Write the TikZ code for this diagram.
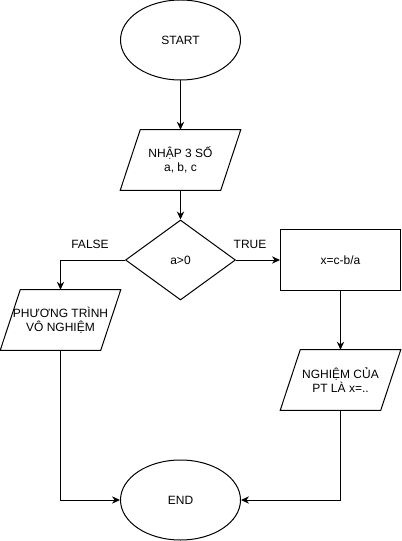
\documentclass[tikz,border=0pt]{standalone}
\usepackage{fontspec}
\setmainfont{Liberation Sans}
\usetikzlibrary{shapes.geometric,arrows.meta,calc}
\begin{document}
\begin{tikzpicture}[x=0.75pt,y=-0.75pt,
  every node/.style={font=\fontsize{9}{10.5}\selectfont, align=center, inner sep=0pt},
  term/.style={draw, ellipse, line width=0.75pt, minimum width=90pt, minimum height=60pt},
  io/.style={rectangle, minimum width=90pt, minimum height=45pt},
  proc/.style={draw, rectangle, line width=0.75pt, minimum width=90pt, minimum height=45pt},
  dec/.style={draw, diamond, line width=0.75pt, minimum width=82.5pt, minimum height=60pt},
  conn/.style={line width=0.75pt, -{Stealth[length=6pt,width=5.5pt]}},
  shape line/.style={line width=0.75pt, line join=miter},
  lbl/.style={font=\fontsize{9}{10.5}\selectfont}
]
\useasboundingbox (0,0) rectangle (401,541);
\node[term] (start) at (180.5,40) {START};
\node[io] (inp) at (180.5,160) {NHẬP 3 SỐ\\a, b, c};
\node[dec] (dia) at (180.5,260) {a>0};
\node[proc] (calc) at (340.5,260) {x=c-b/a};
\node[io] (nosol) at (60.5,320) {PHƯƠNG TRÌNH\\VÔ NGHIỆM};
\node[io] (res) at (340.5,380) {NGHIỆM CỦA\\PT LÀ x=..};
\node[term] (end) at (180.5,500) {END};
\foreach \n in {inp,nosol,res}{
  \draw[shape line] (\n.south west) -- ($(\n.south east)+(-20,0)$) -- (\n.north east)
     -- ($(\n.north west)+(20,0)$) -- cycle;
}
\draw[conn] (start.south) -- (inp.north);
\draw[conn] (inp.south) -- (dia.north);
\draw[conn] (dia.west) -| (nosol.north);
\draw[conn] (dia.east) -- (calc.west);
\draw[conn] (calc.south) -- (res.north);
\draw[conn] (nosol.south) |- (end.west);
\draw[conn] (res.south) |- (end.east);
\node[lbl] (lf) at (90,244) {FALSE};
\node[lbl] (lt) at (250,244) {TRUE};
\end{tikzpicture}
\end{document}
